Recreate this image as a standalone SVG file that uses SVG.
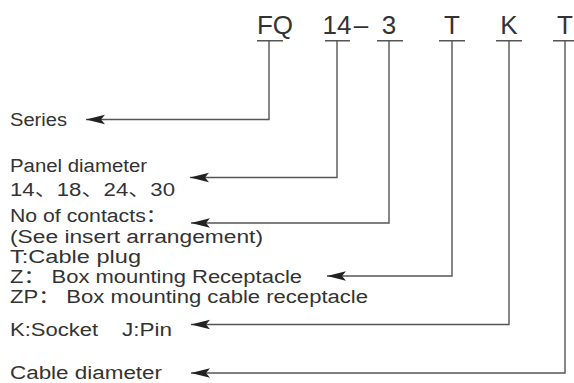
<svg xmlns="http://www.w3.org/2000/svg" width="574" height="383" viewBox="0 0 574 383">
<style>
  .code { font-family: "Liberation Sans", Arial, sans-serif; font-size: 26px; fill: #333; text-anchor: middle; }
  .lbl { font-family: "Liberation Sans", "Noto Sans CJK SC", sans-serif; font-size: 18px; fill: #333; }
  .ul { stroke: #555; stroke-width: 1.4; fill: none; }
  .conn { stroke: #555; stroke-width: 1.4; fill: none; marker-end: url(#arr); }
</style>
<defs>
  <marker id="arr" markerUnits="userSpaceOnUse" markerWidth="22" markerHeight="12" viewBox="-20 -6 22 12" refX="0" refY="0" orient="auto">
    <path d="M0,0 L-19,-4.8 L-15,0 L-19,4.8 Z" fill="#222"/>
  </marker>
</defs>
<rect width="574" height="383" fill="#fff"/>

<g id="code">
  <text class="code" x="275" y="34">FQ</text>
  <text class="code" y="34"><tspan x="337">14</tspan><tspan x="361">–</tspan><tspan x="389">3</tspan></text>
  <text class="code" x="452" y="34">T</text>
  <text class="code" x="509" y="34">K</text>
  <text class="code" x="565" y="34">T</text>
  <path class="ul" d="M257 40.7H283 M325 40.7H350 M377 40.7H403 M439 40.7H465 M496 40.7H522 M553 40.7H578"/>
</g>

<g id="connectors">
  <path class="conn" d="M269 41V119.5H86"/>
  <path class="conn" d="M337 41V177.5H190"/>
  <path class="conn" d="M389 41V223H191"/>
  <path class="conn" d="M452 41V276H327"/>
  <path class="conn" d="M509 41V324.5H191"/>
  <path class="conn" d="M565 41V373H191"/>
</g>

<g id="series"><text class="lbl" x="10" y="126" textLength="57" lengthAdjust="spacingAndGlyphs">Series</text></g>
<g id="panel">
  <text class="lbl" x="10" y="172" textLength="137" lengthAdjust="spacingAndGlyphs">Panel diameter</text>
  <text class="lbl" x="10" y="196" textLength="165" lengthAdjust="spacingAndGlyphs">14、18、24、30</text>
</g>
<g id="contacts">
  <text class="lbl" x="10" y="222" textLength="157" lengthAdjust="spacingAndGlyphs">No of contacts：</text>
  <text class="lbl" x="10" y="242.5" textLength="253" lengthAdjust="spacingAndGlyphs">(See insert arrangement)</text>
</g>
<g id="type">
  <text class="lbl" x="10" y="263" textLength="131" lengthAdjust="spacingAndGlyphs">T:Cable plug</text>
  <text class="lbl" x="10" y="283" textLength="292" lengthAdjust="spacingAndGlyphs">Z： Box mounting Receptacle</text>
  <text class="lbl" x="10" y="302.5" textLength="358" lengthAdjust="spacingAndGlyphs">ZP： Box mounting cable receptacle</text>
</g>
<g id="contact-type">
  <text class="lbl" y="336"><tspan x="10" textLength="88" lengthAdjust="spacingAndGlyphs">K:Socket</tspan><tspan x="122" textLength="50" lengthAdjust="spacingAndGlyphs">J:Pin</tspan></text>
</g>
<g id="cable">
  <text class="lbl" x="10" y="378.5" textLength="152" lengthAdjust="spacingAndGlyphs">Cable diameter</text>
</g>
</svg>
